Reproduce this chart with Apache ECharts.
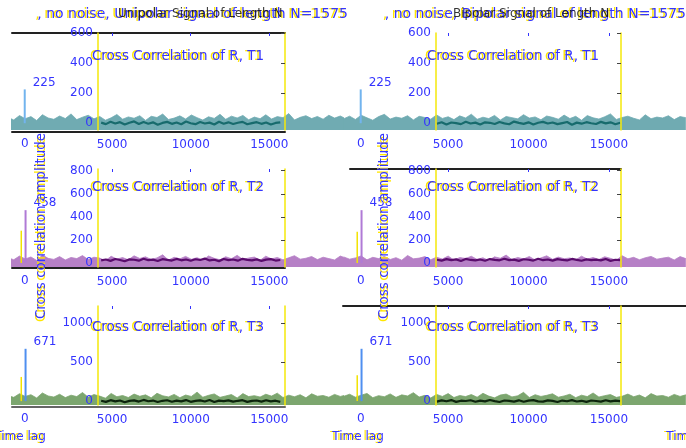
<!DOCTYPE html>
<html>
<head>
<meta charset="utf-8">
<script src="https://cdn.jsdelivr.net/npm/echarts@6/dist/echarts.min.js"></script>
<style>
  html, body { margin: 0; padding: 0; background: #fff; }
  #c { width: 686px; height: 448px; }
</style>
</head>
<body>
<div id="c"></div>
<script>
// ---- data -------------------------------------------------------------
const columnTitles = [', no noise, Unipolar signal of length N=1575', ', no noise, Bipolar signal of length N=1575'];
const columnSubtitles = ['Unipolar Signal of Length N', 'Bipolar Signal of Length N'];
const panelTitles = ['Cross Correlation of R, T1', 'Cross Correlation of R, T2', 'Cross Correlation of R, T3'];
const yAxisName = 'Cross correlation amplitude';
const xAxisName = 'Time lag';

// main correlation peak per row, [unipolar, bipolar]
const peakValues = [[225, 225], [458, 458], [671, 671]];
// smaller side peak next to the main one
const sidePeakValues = [[0, 0], [280, 270], [310, 333]];

const yTickValues = [[0, 200, 400, 600], [0, 200, 400, 600, 800], [0, 500, 1000]];
const lagTickValues = [5000, 10000, 15000];

// correlation floor (full lag range), one array per panel
const floorUniT1 = [38,22,51,30,44,18,57,35,26,48,31,62,24,40,53,29,45,20,36,58,27,42,33,50,19,46,38,61,25,34,49,28,55,37,21,43,32,59,26,47,35,52,23,41,30,56,28,44,37,64,22,39,50,31,45,27,53,34,48,29];
const floorBiT1  = [30,47,25,53,36,20,44,59,28,41,33,50,22,46,38,27,55,32,43,24,49,35,60,26,40,31,52,21,45,37,29,57,34,42,23,48,39,27,54,31,46,20,51,36,28,43,62,25,38,47,33,22,56,30,41,35,50,24,44,37];
const floorUniT2 = [45,28,60,35,52,22,68,40,31,55,26,48,38,64,29,50,42,20,58,34,47,27,62,39,53,30,44,71,25,49,36,57,32,46,24,61,40,28,54,37,66,30,43,51,23,59,35,48,27,45,63,33,41,56,29,50,38,26,60,42];
const floorBiT2  = [52,33,44,61,27,49,38,57,30,46,24,65,36,42,55,28,50,34,60,25,47,39,58,31,45,22,53,41,68,29,48,35,56,26,44,62,32,51,37,43,27,59,34,47,30,54,40,23,63,36,49,28,45,57,33,42,50,26,55,38];
const floorUniT3 = [70,48,95,60,82,40,105,66,52,88,45,76,58,110,50,84,64,38,98,56,72,46,90,62,80,42,100,68,54,86,44,78,60,115,50,74,92,48,66,84,40,96,58,70,52,88,64,102,46,76,56,82,42,94,62,72,50,86,60,78];
const floorBiT3  = [62,88,50,76,98,44,70,56,92,48,80,66,108,52,74,40,86,60,96,46,72,58,84,50,100,64,42,78,90,54,68,112,46,82,60,74,94,50,66,88,44,76,58,104,52,70,84,48,62,90,56,78,42,96,64,72,50,86,60,80];

// zoomed-in correlation over the middle lag window
const zoomUniT1 = [4,-6,10,-2,7,-9,3,12,-5,8,-3,6,-10,2,9,-4,5,-7,11,0,-6,8,-2,4,-8,10,-3,6,-5,3,9,-7,1,7,-4,5,-9,2,6];
const zoomBiT1  = [-3,7,-8,5,1,-6,10,-2,4,-9,6,3,-5,8,-1,-7,11,2,-4,6,-8,3,9,-2,5,-6,1,8,-10,4,-3,7,0,-5,9,-1,6,-7,3];
const zoomUniT2 = [22,30,18,34,26,15,31,28,20,36,24,29,17,33,27,21,35,23,30,19,32,26,38,22,28,16,34,25,30,20,36,27,23,31,18,29,33,21,26];
const zoomBiT2  = [28,20,33,24,31,17,35,26,22,30,19,34,27,23,37,25,29,18,32,28,21,36,24,30,20,33,26,22,35,27,19,31,25,29,23,34,18,28,24];
const zoomUniT3 = [5,-10,12,-4,8,-14,3,10,-6,15,-2,7,-12,4,11,-8,6,-3,13,-9,2,9,-5,14,-11,6,-1,10,-7,4,12,-10,3,8,-6,11,-3,5,-9];
const zoomBiT3  = [-6,9,-2,13,-10,5,1,11,-8,7,-4,14,-1,-12,8,3,-6,10,-9,6,12,-3,-7,9,2,-11,7,-2,13,-5,4,-10,8,1,-7,11,-4,6,0];

const floorData = [[floorUniT1, floorBiT1], [floorUniT2, floorBiT2], [floorUniT3, floorBiT3]];
const zoomData = [[zoomUniT1, zoomBiT1], [zoomUniT2, zoomBiT2], [zoomUniT3, zoomBiT3]];

// sample lags
const floorLags = floorUniT1.map((_, i) => -1050 + i * 360);
const zoomLags = zoomUniT1.map((_, i) => 4300 + i * 300);

// ---- layout & style -------------------------------------------------------
const BLUE = '#3434ff';
const YELLOW = '#ffe600';
const FONT = '"DejaVu Sans", sans-serif';
const floorColors = ['#70abb2', '#b680c6', '#7ca66f'];
const peakColors = ['#72b4ee', '#b07ad6', '#4f8ff0'];
const zoomColors = ['#176b6d', '#5a0c6c', '#0d240d'];

const colFull = [{ left: 12, width: 331, min: -800, max: 20000 }, { left: 343, width: 343, min: -1100, max: 20200 }];
const colZoom = [{ left: 98, width: 187, min: 4100, max: 16000 }, { left: 436, width: 185, min: 4250, max: 15750 }];
const rowBox = [{ top: 33, height: 97 }, { top: 169, height: 98 }, { top: 306, height: 99 }];
const yRange = [[-45, 600], [-35, 815], [-50, 1220]];

const plain = (v) => String(v);
const labelStyle = (size) => ({
  color: BLUE, fontSize: size, fontFamily: FONT, formatter: plain,
  textShadowColor: YELLOW, textShadowOffsetX: -2, textShadowBlur: 0
});

const grid = [], xAxis = [], yAxis = [], series = [], graphic = [];

// blue text with a yellow copy slightly to the left
function doubledText(text, x, y, opts) {
  const base = Object.assign({ font: '13.5px ' + FONT, align: 'center', verticalAlign: 'middle' }, opts.style || {});
  const rot = opts.rotation || 0;
  const dx = rot ? 0 : -2, dy = rot ? 3 : 0;
  graphic.push({ type: 'text', x: x + dx, y: y + dy, rotation: rot, z: 10, silent: true, style: Object.assign({}, base, { text, fill: YELLOW }) });
  graphic.push({ type: 'text', x, y, rotation: rot, z: 11, silent: true, style: Object.assign({}, base, { text, fill: BLUE }) });
}

for (let r = 0; r < 3; r++) {
  for (let c = 0; c < 2; c++) {
    const box = rowBox[r];

    // full-range panel
    const gFull = grid.length;
    grid.push({ left: colFull[c].left, width: colFull[c].width, top: box.top, height: box.height });
    const xFull = xAxis.length;
    xAxis.push({
      type: 'value', gridIndex: gFull, min: colFull[c].min, max: colFull[c].max,
      axisLine: { show: false }, axisTick: { show: false }, splitLine: { show: false },
      axisLabel: Object.assign({ customValues: [0], margin: 8 }, labelStyle(12))
    });
    const yFull = yAxis.length;
    yAxis.push({ type: 'value', gridIndex: gFull, min: yRange[r][0], max: yRange[r][1], show: false });

    series.push({
      type: 'line', xAxisIndex: xFull, yAxisIndex: yFull, z: 1,
      data: floorLags.map((l, i) => [l, floorData[r][c][i]]),
      showSymbol: false, silent: true,
      lineStyle: { color: floorColors[r], width: 0.8 },
      areaStyle: { color: floorColors[r], opacity: 1, origin: 'start' }
    });
    if (sidePeakValues[r][c] > 0) {
      series.push({
        type: 'bar', xAxisIndex: xFull, yAxisIndex: yFull, z: 2, barWidth: 1.5,
        data: [[-150, sidePeakValues[r][c]]], itemStyle: { color: '#f2e300' }
      });
    }
    series.push({
      type: 'bar', xAxisIndex: xFull, yAxisIndex: yFull, z: 3, barWidth: 2,
      data: [[0, peakValues[r][c]]], itemStyle: { color: peakColors[r] },
      label: Object.assign(labelStyle(12), { show: true, position: [9, -13], formatter: (p) => String(p.value[1]) })
    });

    // zoomed panel
    const gZoom = grid.length;
    grid.push({ left: colZoom[c].left, width: colZoom[c].width, top: box.top, height: box.height });
    const xZoom = xAxis.length;
    xAxis.push({
      type: 'value', gridIndex: gZoom, min: colZoom[c].min, max: colZoom[c].max, z: 6,
      axisLine: { show: false, onZero: false }, axisTick: { show: false }, splitLine: { show: false },
      axisLabel: Object.assign({ customValues: lagTickValues, margin: 9 }, labelStyle(12))
    });
    xAxis.push({
      type: 'value', gridIndex: gZoom, position: 'top', min: colZoom[c].min, max: colZoom[c].max, z: 6,
      axisLine: { show: false, onZero: false }, splitLine: { show: false }, axisLabel: { show: false },
      axisTick: { show: true, inside: true, length: 3, customValues: lagTickValues, lineStyle: { color: BLUE } }
    });
    const yZoom = yAxis.length;
    yAxis.push({
      type: 'value', gridIndex: gZoom, min: yRange[r][0], max: yRange[r][1], z: 6,
      axisLine: { show: true, onZero: false, lineStyle: { color: '#f5e90a', width: 1.5 } },
      axisTick: { show: false }, splitLine: { show: false },
      axisLabel: Object.assign({ customValues: yTickValues[r], margin: 5 }, labelStyle(12))
    });
    yAxis.push({
      type: 'value', gridIndex: gZoom, position: 'right', min: yRange[r][0], max: yRange[r][1], z: 6,
      axisLine: { show: true, onZero: false, lineStyle: { color: '#f5e90a', width: 1.5 } },
      axisTick: { show: true, inside: true, length: 4, customValues: yTickValues[r].slice(1), lineStyle: { color: '#444' } },
      splitLine: { show: false }, axisLabel: { show: false }
    });
    series.push({
      type: 'line', xAxisIndex: xZoom, yAxisIndex: yZoom, z: 4,
      data: zoomLags.map((l, i) => [l, zoomData[r][c][i]]),
      showSymbol: false, silent: true,
      lineStyle: { color: zoomColors[r], width: 2.2 }
    });

    // panel title
    doubledText(panelTitles[r], colZoom[c].left + (c === 0 ? 80 : 77), [56, 187, 327][r], {});
  }
}

// frame lines around the left panels and across the right ones
const frames = [
  { left: 12, width: 273, top: 33, height: 99, lines: ['top', 'bottom'], color: '#222' },
  { left: 12, width: 273, top: 169, height: 99, lines: ['bottom'], color: '#222' },
  { left: 12, width: 273, top: 306, height: 101, lines: ['bottom'], color: '#666' },
  { left: 350, width: 271, top: 169, height: 99, lines: ['top'], color: '#222' },
  { left: 343, width: 343, top: 306, height: 99, lines: ['top'], color: '#222' }
];
frames.forEach((f) => {
  const g = grid.length;
  grid.push({ left: f.left, width: f.width, top: f.top, height: f.height });
  f.lines.forEach((pos) => {
    xAxis.push({
      type: 'value', gridIndex: g, position: pos, min: 0, max: 1,
      axisLine: { show: true, onZero: false, lineStyle: { color: f.color, width: 2 } },
      axisTick: { show: false }, axisLabel: { show: false }, splitLine: { show: false }
    });
  });
  yAxis.push({ type: 'value', gridIndex: g, min: 0, max: 1, show: false });
});

// column titles
[348, 686].forEach((xr, c) => {
  doubledText(columnTitles[c], xr, 14, { style: { align: 'right', font: '14px ' + FONT } });
  graphic.push({ type: 'text', x: [118, 453][c], y: 14, z: 12, silent: true, style: { text: columnSubtitles[c], font: '12px ' + FONT, fill: '#111', opacity: 0.85, align: 'left', verticalAlign: 'middle' } });
});

// axis names
[41, 384].forEach((x) => doubledText(yAxisName, x, 226, { rotation: Math.PI / 2, style: { font: '13.5px ' + FONT } }));
[20, 358, 692].forEach((x) => doubledText(xAxisName, x, 437, { style: { font: '12px ' + FONT } }));

const chart = echarts.init(document.getElementById('c'), null, { renderer: 'canvas' });
chart.setOption({
  animation: false,
  backgroundColor: '#fff',
  grid, xAxis, yAxis, series, graphic
});
</script>
</body>
</html>
